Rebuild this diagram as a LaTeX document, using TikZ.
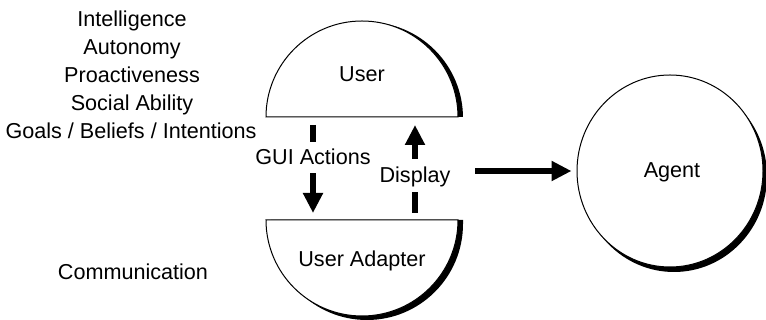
\documentclass[tikz,border=0pt]{standalone}
\usepackage{fontspec}
\setmainfont{Liberation Sans}
\usetikzlibrary{arrows.meta,shapes.geometric}
\begin{document}
\begin{tikzpicture}[x=1pt,y=1pt,
  lbl/.style={font=\fontsize{21.6}{25}\selectfont, inner sep=0pt},
  outline/.style={draw=black, line width=1pt, fill=white},
  shade/.style={fill=black},
  shaft/.style={line width=5.5pt},
  bigarrow/.style={line width=5.5pt, -{Triangle[width=19pt,length=20pt]}}]
\useasboundingbox (0,0) rectangle (766,320);

% upper half disc (User) with its shadow kept above the flat edge
\begin{scope}
  \clip (0,203) rectangle (766,320);
  \fill[shade] (367,202) circle[radius=96];
\end{scope}
\draw[outline] (266,203) arc[start angle=180,end angle=0,radius=96] -- cycle;

% lower half disc (User Adapter) with its shadow
\fill[shade] (271,100) -- (271,96) arc[start angle=180,end angle=360,radius=96] -- (463,100) -- cycle;
\draw[outline] (266,100) arc[start angle=180,end angle=360,radius=96] -- cycle;

% agent disc with its shadow
\fill[shade] (674,144) ellipse[x radius=93,y radius=96];
\node[ellipse, outline, minimum width=186pt, minimum height=192pt, inner sep=0pt] (agent) at (670,149) {};
\node[lbl, anchor=base] (agentlbl) at (672,142) {Agent};

% labels of the two halves
\node[lbl, anchor=base] (user) at (362,238) {User};
\node[lbl, anchor=base] (adapter) at (362,53) {User Adapter};

% properties listed on the left
\node[lbl, anchor=base] (intel)  at (132,293) {Intelligence};
\node[lbl, anchor=base] (auton)  at (132,265) {Autonomy};
\node[lbl, anchor=base] (proact) at (132,237) {Proactiveness};
\node[lbl, anchor=base] (social) at (132,209) {Social Ability};
\node[lbl, anchor=base] (goals)  at (131,181) {Goals / Beliefs / Intentions};
\node[lbl, anchor=base] (comm)   at (133,40)  {Communication};

% arrow labels, sized so they cut a gap in the arrows
\node[lbl, anchor=base, text height=23pt, text depth=8pt] (gui)  at (313,155) {GUI Actions};
\node[lbl, anchor=base, text height=24pt, text depth=9pt] (disp) at (415,137) {Display};

\coordinate (guiTop)   at (313,195);
\coordinate (guiEnd)   at (313,107);
\coordinate (dispBot)  at (415,107);
\coordinate (dispTip)  at (415,195);
\coordinate (toAgent)  at (475,149);

\draw[shaft] (guiTop) -- (gui);
\draw[bigarrow] (gui) -- (guiEnd);
\draw[shaft] (dispBot) -- (disp);
\draw[bigarrow] (disp) -- (dispTip);
\draw[bigarrow, shorten >=5pt] (toAgent) -- (agent);
\end{tikzpicture}
\end{document}
